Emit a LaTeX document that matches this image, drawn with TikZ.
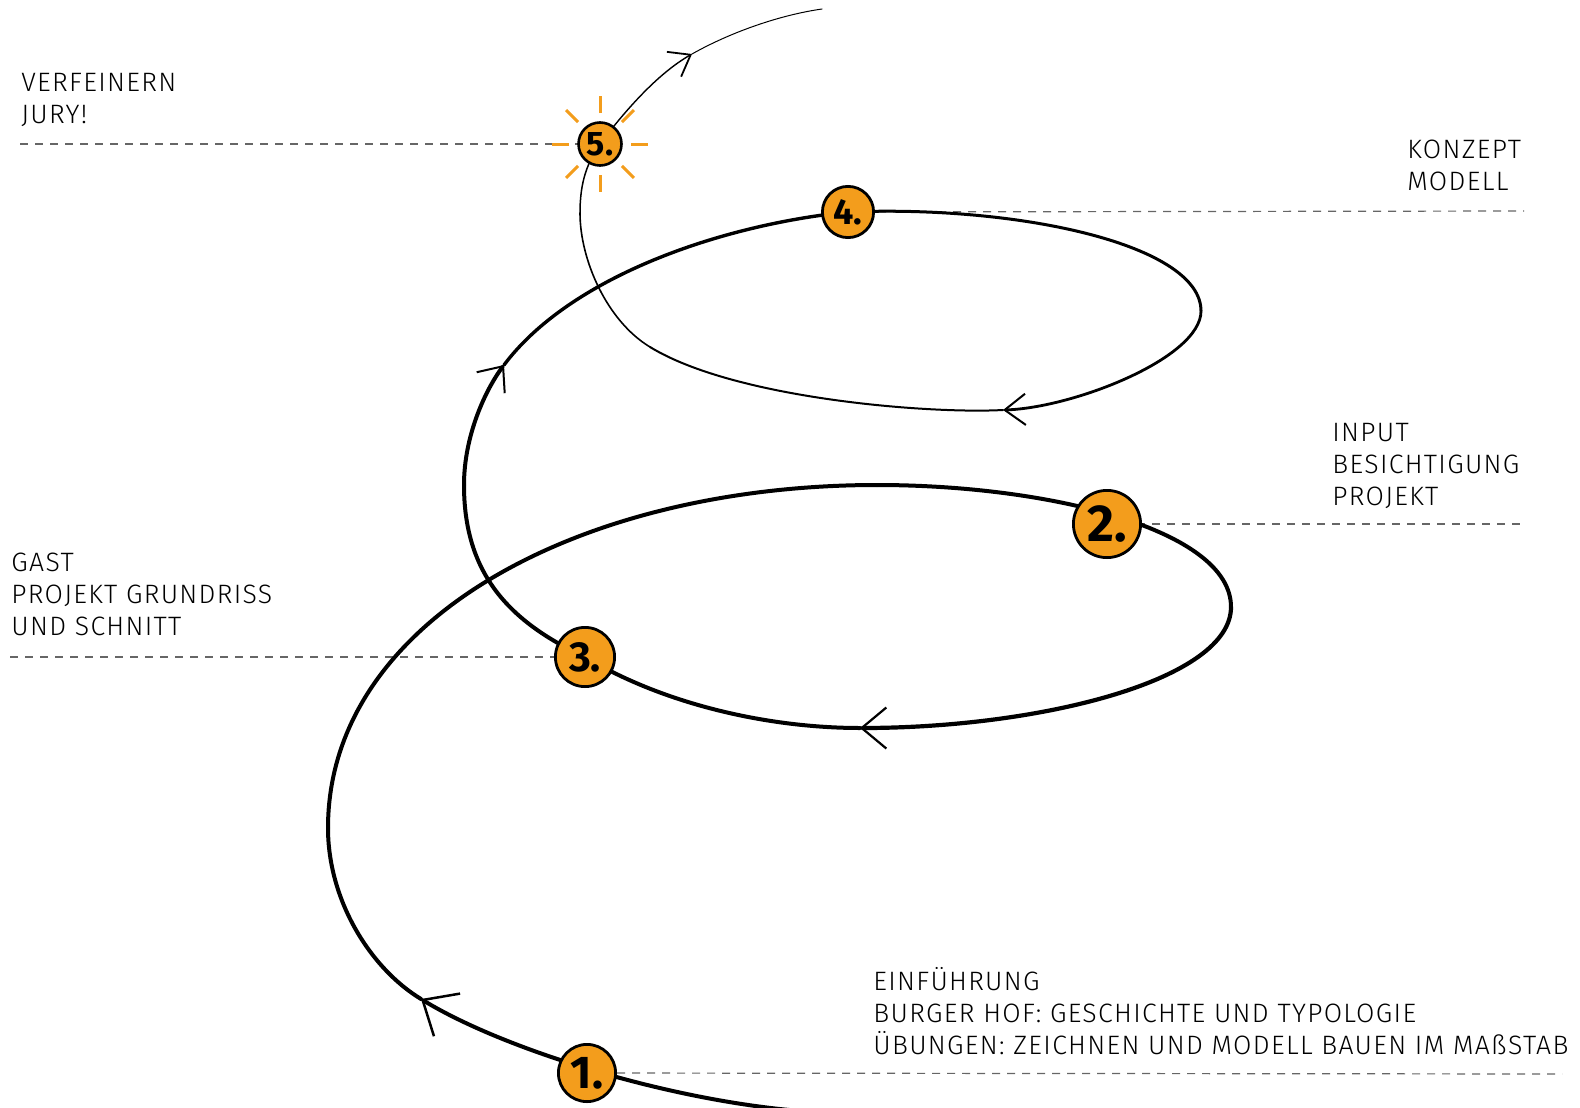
\documentclass[tikz,border=0pt]{standalone}
\usepackage{fontspec}
\setmainfont{Fira Sans}[UprightFont=* Light, BoldFont=* Bold, LetterSpace=5]
\newfontfamily\chiffres{Fira Sans Bold}
\usepackage{tikz}
\usetikzlibrary{arrows.meta}
\definecolor{etapeorange}{RGB}{243,157,28}
\tikzstyle{etape}=[circle,draw=black,line width=1.4pt,fill=etapeorange,inner sep=0pt]
\tikzstyle{legende}=[anchor=base west,align=left,inner sep=0pt,font=\fontsize{13.3}{16}\selectfont]
\tikzstyle{pointille}=[black!60,line width=0.6pt,dash pattern=on 4pt off 3.5pt]
\tikzstyle{spirale}=[line cap=round,line join=round]
\tikzstyle{rayon}=[etapeorange,line width=1.5pt]

\begin{document}
\begin{tikzpicture}[x=0.5pt,y=-0.5pt]
\useasboundingbox (0,0) rectangle (1580,1108);
%points de la spirale
\coordinate (d) at (815,1112);
\coordinate (p1) at (587,1073);
\coordinate (f1) at (421,999);
\coordinate (g1) at (328,828);
\coordinate (h1) at (877,485);
\coordinate (p2) at (1107,524);
\coordinate (r1) at (1231,607);
\coordinate (f2) at (860,728);
\coordinate (p3) at (585,657);
\coordinate (g2) at (464,485);
\coordinate (f3) at (504,365);
\coordinate (p4) at (848,212);
\coordinate (r2) at (1201,311);
\coordinate (f4) at (1003,410);
\coordinate (k) at (650,347);
\coordinate (g3) at (580,213);
\coordinate (p5) at (600,144);
\coordinate (f5) at (692,54);
\coordinate (e) at (822,9);
\coordinate (q1) at (1562,1074);
\coordinate (q2) at (1524,524);
\coordinate (q3) at (10,657);
\coordinate (q4) at (1524,211);
\coordinate (q5) at (20,144);
%lignes
\draw[pointille] (q5) -- (p5);
\draw[pointille] (p4) -- (q4);
\draw[pointille] (p2) -- (q2);
\draw[pointille] (q3) -- (p3);
\draw[pointille] (p1) -- (q1);
%spirale
\draw[spirale,line width=2pt,-{Straight Barb[length=14.3pt,width=25pt,line width=1.25pt]}] (d) .. controls (680,1104) and (506,1051) .. (f1);
\draw[spirale,line width=2pt] (f1) .. controls (370,968) and (328,900) .. (g1);
\draw[spirale,line width=2pt] (g1) .. controls (328,620) and (580,485) .. (h1);
\draw[spirale,line width=2pt] (h1) .. controls (1050,485) and (1231,530) .. (r1);
\draw[spirale,line width=2.1pt,-{Straight Barb[length=12.3pt,width=20.5pt,line width=1.1pt]}] (r1) .. controls (1231,680) and (1040,728) .. (f2);
\draw[spirale,line width=2pt] (f2) .. controls (770,728) and (665,705) .. (p3);
\draw[spirale,line width=2pt] (p3) .. controls (505,620) and (464,570) .. (g2);
\draw[spirale,line width=2pt,-{Straight Barb[length=10.3pt,width=17.5pt,line width=1pt]}] (g2) .. controls (464,435) and (486,389) .. (f3);
\draw[spirale,line width=1.7pt] (f3) .. controls (570,277) and (720,225) .. (p4);
\draw[spirale,line width=1.5pt] (p4) .. controls (1020,205) and (1201,245) .. (r2);
\draw[spirale,line width=1.4pt,-{Straight Barb[length=10.4pt,width=15.6pt,line width=1pt]}] (r2) .. controls (1201,358) and (1073,408) .. (f4);
\draw[spirale,line width=1pt] (f4) .. controls (930,414) and (735,399) .. (k);
\draw[spirale,line width=0.8pt] (k) .. controls (607,321) and (580,260) .. (g3);
\draw[spirale,line width=0.75pt] (g3) .. controls (580,180) and (588,162) .. (p5);
\draw[spirale,line width=0.7pt,-{Straight Barb[length=9.6pt,width=14.3pt,line width=0.9pt]}] (p5) .. controls (624,112) and (657,74) .. (f5);
\draw[spirale,line width=0.5pt] (f5) .. controls (731,32) and (780,15) .. (e);
%soleil
\foreach \a in {0,45,...,315}
  \draw[rayon] (p5) ++(\a:31) -- ++(\a:17);
%etapes
\node[etape,minimum size=28.6pt,font=\chiffres\fontsize{23}{23}\selectfont] (n1) at (p1) {1.};
\node[etape,minimum size=33.6pt,font=\chiffres\fontsize{26}{26}\selectfont] (n2) at (p2) {2.};
\node[etape,minimum size=29.6pt,font=\chiffres\fontsize{21}{21}\selectfont] (n3) at (p3) {3.};
\node[etape,minimum size=25.6pt,font=\chiffres\fontsize{18}{18}\selectfont] (n4) at (p4) {4.};
\node[etape,minimum size=21.5pt,line width=1.3pt,font=\chiffres\fontsize{17}{17}\selectfont] (n5) at (p5) {5.};
%textes
\node[legende] (t5) at (21,123) {VERFEINERN\\JURY!};
\node[legende] (t4) at (1407,190) {KONZEPT\\MODELL};
\node[legende] (t2) at (1332,505) {INPUT\\BESICHTIGUNG\\PROJEKT};
\node[legende] (t3) at (11,635) {GAST\\PROJEKT GRUNDRISS\\UND SCHNITT};
\node[legende] (t1) at (873,1054) {EINFÜHRUNG\\BURGER HOF: GESCHICHTE UND TYPOLOGIE\\ÜBUNGEN: ZEICHNEN UND MODELL BAUEN IM MAßSTAB};
\end{tikzpicture}
\end{document}
